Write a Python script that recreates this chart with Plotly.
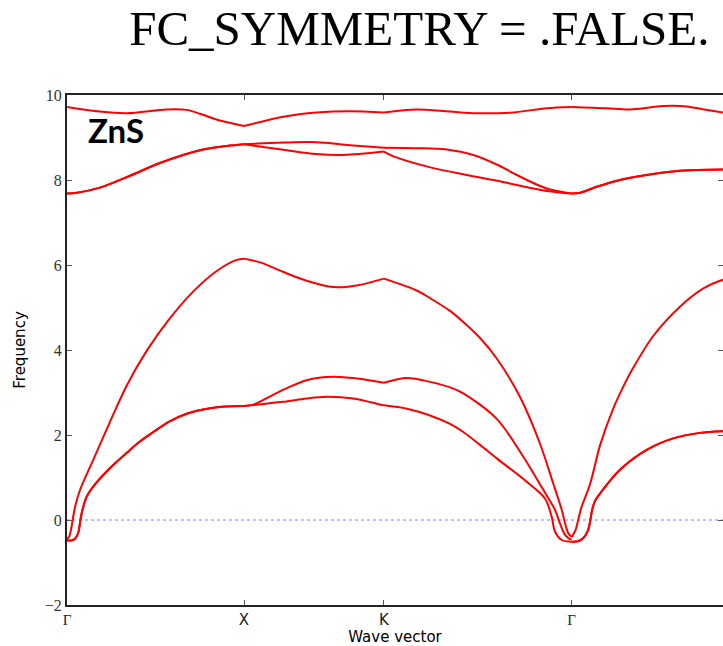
import plotly.graph_objects as go

# High-symmetry path of the fcc zone (lengths in 2π/a units)
path_labels = ["Γ", "X", "K", "Γ", "L"]
path_nodes = [0.0, 1.0, 1.7906, 2.8513, 3.7173]

# Phonon branches: wave-vector coordinate and frequency.
# A repeated coordinate marks a high-symmetry point where the branch restarts.
band1_q = [0.0, 0.027, 0.045, 0.064, 0.073, 0.083, 0.111, 0.147, 0.205, 0.27, 0.337, 0.41, 0.488, 0.58, 0.676, 0.808, 0.9, 1.0,
           1.0, 1.22, 1.354, 1.467, 1.617, 1.768, 1.7906,
           1.7906, 1.921, 2.051, 2.164, 2.239, 2.33, 2.428, 2.597, 2.701, 2.738, 2.757, 2.795, 2.842, 2.8513,
           2.8513, 2.887, 2.916, 2.943, 2.957, 2.966, 2.983, 3.011, 3.124, 3.275, 3.425, 3.576, 3.7173]
band1_f = [-0.48, -0.48, -0.44, -0.30, -0.08, 0.16, 0.55, 0.78, 1.06, 1.33, 1.58, 1.84, 2.07, 2.32, 2.50, 2.63, 2.67, 2.68,
           2.68, 2.78, 2.86, 2.90, 2.86, 2.72, 2.70,
           2.70, 2.62, 2.46, 2.26, 2.07, 1.78, 1.45, 0.90, 0.50, 0.08, -0.27, -0.47, -0.51, -0.51,
           -0.51, -0.50, -0.43, -0.25, 0.0, 0.22, 0.45, 0.62, 1.18, 1.65, 1.92, 2.05, 2.09]

band2_q = [0.0, 0.027, 0.045, 0.064, 0.073, 0.083, 0.111, 0.147, 0.205, 0.27, 0.337, 0.41, 0.488, 0.58, 0.676, 0.808, 0.9, 1.0,
           1.0, 1.05, 1.22, 1.354, 1.505, 1.637, 1.7906,
           1.7906, 1.921, 2.051, 2.164, 2.239, 2.428, 2.578, 2.691, 2.757, 2.785, 2.814, 2.842, 2.8513,
           2.8513, 2.887, 2.916, 2.943, 2.957, 2.966, 2.983, 3.011, 3.124, 3.275, 3.425, 3.576, 3.7173]
band2_f = [-0.48, -0.48, -0.44, -0.30, -0.08, 0.16, 0.55, 0.78, 1.06, 1.33, 1.58, 1.84, 2.07, 2.32, 2.50, 2.63, 2.67, 2.68,
           2.68, 2.71, 3.06, 3.29, 3.37, 3.33, 3.23,
           3.23, 3.34, 3.25, 3.12, 2.98, 2.38, 1.49, 0.71, 0.24, -0.08, -0.35, -0.45, -0.46,
           -0.51, -0.50, -0.43, -0.25, 0.0, 0.22, 0.45, 0.62, 1.18, 1.65, 1.92, 2.05, 2.09]

band3_q = [0.0, 0.011, 0.023, 0.032, 0.045, 0.073, 0.149, 0.243, 0.337, 0.450, 0.582, 0.714, 0.846, 0.959, 1.0,
           1.0, 1.10, 1.22, 1.354, 1.505, 1.637, 1.7906,
           1.7906, 1.976, 2.051, 2.164, 2.239, 2.33, 2.428, 2.559, 2.672, 2.747, 2.795, 2.814, 2.832, 2.8513,
           2.8513, 2.872, 2.888, 2.905, 2.955, 3.011, 3.086, 3.141, 3.199, 3.312, 3.463, 3.595, 3.689, 3.7173]
band3_f = [-0.44, -0.40, -0.22, 0.0, 0.30, 0.70, 1.42, 2.31, 3.16, 3.98, 4.75, 5.38, 5.86, 6.12, 6.15,
           6.15, 6.05, 5.84, 5.63, 5.48, 5.52, 5.68,
           5.68, 5.40, 5.22, 4.92, 4.66, 4.30, 3.80, 2.90, 1.80, 0.86, 0.24, -0.08, -0.31, -0.40,
           -0.40, -0.25, 0.0, 0.28, 0.84, 1.75, 2.62, 3.12, 3.58, 4.33, 5.02, 5.45, 5.63, 5.66]

band4_q = [0.0, 0.056, 0.186, 0.356, 0.525, 0.751, 0.902, 1.0,
           1.0, 1.222, 1.41, 1.561, 1.7906,
           1.7906, 1.849, 2.07, 2.258, 2.446, 2.521, 2.710, 2.8513,
           2.8513, 2.90, 2.993, 3.124, 3.275, 3.463, 3.7173]
band4_f = [7.68, 7.70, 7.82, 8.10, 8.40, 8.70, 8.80, 8.84,
           8.84, 8.71, 8.61, 8.59, 8.67,
           8.67, 8.55, 8.28, 8.12, 7.97, 7.90, 7.74, 7.68,
           7.68, 7.70, 7.84, 8.00, 8.12, 8.22, 8.25]

band5_q = [0.0, 0.056, 0.186, 0.356, 0.525, 0.751, 0.902, 1.0,
           1.0, 1.222, 1.41, 1.599, 1.7906,
           1.7906, 1.976, 2.145, 2.296, 2.446, 2.521, 2.710, 2.8513,
           2.8513, 2.90, 2.993, 3.124, 3.275, 3.463, 3.7173]
band5_f = [7.68, 7.70, 7.82, 8.10, 8.40, 8.70, 8.80, 8.84,
           8.84, 8.88, 8.89, 8.82, 8.76,
           8.76, 8.75, 8.72, 8.59, 8.33, 8.16, 7.80, 7.68,
           7.68, 7.70, 7.84, 8.00, 8.12, 8.22, 8.25]

band6_q = [0.0, 0.186, 0.337, 0.563, 0.676, 0.751, 0.864, 1.0,
           1.0, 1.222, 1.41, 1.599, 1.7906,
           1.7906, 1.976, 2.164, 2.315, 2.521, 2.710, 2.8513,
           2.8513, 3.049, 3.181, 3.369, 3.501, 3.599, 3.7173]
band6_f = [9.72, 9.61, 9.57, 9.66, 9.65, 9.56, 9.40, 9.27,
           9.27, 9.49, 9.59, 9.62, 9.59,
           9.59, 9.66, 9.61, 9.57, 9.59, 9.69, 9.72,
           9.72, 9.69, 9.66, 9.74, 9.73, 9.66, 9.58]

bands = [(band1_q, band1_f), (band2_q, band2_f), (band3_q, band3_f),
         (band4_q, band4_f), (band5_q, band5_f), (band6_q, band6_f)]


def split_segments(q, f):
    """Insert a gap wherever a coordinate repeats, so each path segment is smoothed on its own."""
    xs, ys = [q[0]], [f[0]]
    for i in range(1, len(q)):
        if q[i] == q[i - 1]:
            xs.append(None)
            ys.append(None)
        xs.append(q[i])
        ys.append(f[i])
    return xs, ys


fig = go.Figure()

# zero-frequency reference line
fig.add_trace(go.Scatter(
    x=[path_nodes[0], path_nodes[-1]], y=[0, 0], mode="lines",
    line=dict(color="#7f7fff", width=1, dash="dot"),
    hoverinfo="skip", showlegend=False))

for q, f in bands:
    xs, ys = split_segments(q, f)
    fig.add_trace(go.Scatter(
        x=xs, y=ys, mode="lines", connectgaps=False,
        line=dict(color="#ff0000", width=2, shape="spline", smoothing=0.9),
        showlegend=False))

# carrier for the right-hand tick marks
fig.add_trace(go.Scatter(x=[None], y=[None], yaxis="y2", showlegend=False, hoverinfo="skip"))

serif = "Liberation Serif"
sans = "DejaVu Sans"

tick_text = []
for lab in path_labels:
    if lab == "Γ":
        tick_text.append(f'<span style="font-family:{serif}">{lab}</span>')
    else:
        tick_text.append(lab)

axis_line = "#222222"
plot_w = 656.0
px_per_unit = 177.0

fig.update_layout(
    width=723, height=646,
    margin=dict(l=67, r=0, t=95, b=41),
    paper_bgcolor="white", plot_bgcolor="white",
    title=dict(text="FC_SYMMETRY = .FALSE.", x=0.58, xanchor="center", xref="container",
               y=1 - 28 / 646, yanchor="middle", yref="container",
               font=dict(family=serif, size=49, color="black")),
    xaxis=dict(range=[0, plot_w / px_per_unit], tickvals=path_nodes, ticktext=tick_text,
               ticks="inside", ticklen=5, tickwidth=1, tickcolor="#555555",
               showline=True, linewidth=2, linecolor=axis_line, mirror="ticks",
               showgrid=False, zeroline=False,
               tickfont=dict(family=sans, size=15, color="#222222"),
               title=dict(text="Wave vector", font=dict(family=sans, size=15, color="black"),
                          standoff=5)),
    yaxis=dict(range=[-2, 10], tickvals=[-2, 0, 2, 4, 6, 8, 10],
               ticks="inside", ticklen=5, tickwidth=1, tickcolor="#555555",
               showline=True, linewidth=2, linecolor=axis_line, mirror=False,
               showgrid=False, zeroline=False,
               tickfont=dict(family=serif, size=16, color="#333333"),
               title=dict(text="Frequency", font=dict(family=sans, size=15, color="black"),
                          standoff=16)),
    yaxis2=dict(range=[-2, 10], tickvals=[-2, 0, 2, 4, 6, 8, 10], overlaying="y", side="right",
                ticks="inside", ticklen=5, tickwidth=1, tickcolor="#555555",
                showticklabels=False, showline=False, showgrid=False, zeroline=False),
    annotations=[dict(text="<b>ZnS</b>", xref="paper", yref="paper", x=0.0747, y=0.931,
                      xanchor="center", yanchor="middle", showarrow=False,
                      font=dict(family="Lato", size=33, color="black"))],
)

fig.write_html("out.html")
